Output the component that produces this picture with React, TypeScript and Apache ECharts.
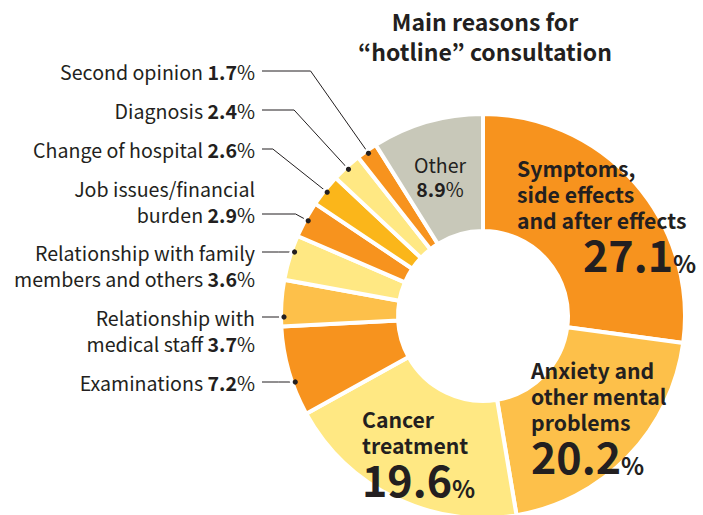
import React, { useEffect, useRef } from 'react';
import * as echarts from 'echarts';

const categories = [
  'Symptoms, side effects and after effects',
  'Anxiety and other mental problems',
  'Cancer treatment',
  'Examinations',
  'Relationship with medical staff',
  'Relationship with family members and others',
  'Job issues/financial burden',
  'Change of hospital',
  'Diagnosis',
  'Second opinion',
  'Other',
];
const values = [27.1, 20.2, 19.6, 7.2, 3.7, 3.6, 2.9, 2.6, 2.4, 1.7, 8.9];
const labelLines = [
  ['Symptoms,', 'side effects', 'and after effects'],
  ['Anxiety and', 'other mental', 'problems'],
  ['Cancer', 'treatment'],
  ['Examinations'],
  ['Relationship with', 'medical staff'],
  ['Relationship with family', 'members and others'],
  ['Job issues/financial', 'burden'],
  ['Change of hospital'],
  ['Diagnosis'],
  ['Second opinion'],
  ['Other'],
];
const titleText = 'Main reasons for\n\u201chotline\u201d consultation';

// styles / layout (not data)
const ORANGE = '#F7931E';
const LIGHT_ORANGE = '#FDC04A';
const PALE = '#FFE883';
const GOLD = '#FBB61A';
const GREY = '#C8C8B9';
const colors = [ORANGE, LIGHT_ORANGE, PALE, ORANGE, LIGHT_ORANGE, PALE, ORANGE, GOLD, PALE, ORANGE, GREY];
const TEXT = '#231F20';
const FONT = '"Noto Sans CJK JP", "Noto Sans", sans-serif';
const CX = 483, CY = 316, R_OUT = 202, R_IN = 85, DOT_R = 199;
const OUT_LH = 26;
const OUT_FS = 19.6;
const BIG_FS = 43;
const OUT_RIGHT = 255, LINE_START = 262;
// index -> [attach y, attach line, leader mode]
const outerLayout: Record<number, [number, number, string]> = {
  3: [382, 0, 'h'],
  4: [317, 0, 'h'],
  5: [252, 0, 'h'],
  6: [214, 1, 'r'],
  7: [149, 0, 'r'],
  8: [110, 0, 'r'],
  9: [71, 0, 'r'],
};
// index -> [x, y(top), align]
const innerLayout: Record<number, [number, number, string]> = {
  0: [517, 154, 'left'],
  1: [531, 356, 'left'],
  2: [362, 405, 'left'],
  10: [440, 152, 'center'],
};

function angles() {
  const total = values.reduce((a, b) => a + b, 0);
  let cum = 0;
  return values.map((v) => {
    const s = (cum / total) * 360;
    cum += v;
    const e = (cum / total) * 360;
    return { s, e, m: (s + e) / 2 };
  });
}

function polar(deg: number, r: number) {
  const t = (deg * Math.PI) / 180;
  return [CX + r * Math.sin(t), CY - r * Math.cos(t)];
}

function leader(i: number) {
  const [y, , mode] = outerLayout[i];
  const a = angles()[i];
  if (mode === 'h') {
    const dx = Math.sqrt(DOT_R * DOT_R - (y - CY) * (y - CY));
    const dot = [CX - dx, y];
    return { dot, points: [[LINE_START, y], [(LINE_START + dot[0]) / 2, y], dot] };
  }
  const dot = polar(a.m, DOT_R);
  const t = (a.m * Math.PI) / 180;
  const s = Math.sin(t), c = Math.cos(t);
  const k = (dot[1] - y) / c;
  const ex = dot[0] + k * s;
  return { dot, points: [[LINE_START, y], [ex, y], dot] };
}

function fmt(v: number) {
  return v.toFixed(1);
}

function labelText(i: number) {
  const lines = labelLines[i];
  const v = fmt(values[i]);
  if (i <= 2) {
    const pad = i === 0 ? '{big0|' : '{big|';
    return lines.map((l) => `{t|${l}}`).join('\n') + `\n${pad}${v}}{bp|%}`;
  }
  if (i === 10) {
    return `{o|${lines[0]}}\n{ob|${v}}{o|%}`;
  }
  const body = lines.slice(0, -1).map((l) => `{r|${l}}`);
  body.push(`{r|${lines[lines.length - 1]} }{n|${v}}{r|%}`);
  return body.join('\n');
}

export default function App() {
  const ref = useRef<HTMLDivElement>(null);
  useEffect(() => {
    if (!ref.current) return;
    const chart = echarts.init(ref.current, undefined, { renderer: 'svg' });
    const dots = Object.keys(outerLayout).map((k) => {
      const { dot } = leader(Number(k));
      return {
        type: 'circle',
        shape: { cx: dot[0], cy: dot[1], r: 2.6 },
        style: { fill: TEXT },
        z: 100,
      };
    });
    const data = values.map((v, i) => {
      const outer = !!outerLayout[i];
      return {
        name: categories[i],
        value: v,
        itemStyle: { color: colors[i] },
        label: { position: outer ? 'outside' : 'inside' },
        labelLine: { show: outer },
      };
    });
    chart.setOption({
      animation: false,
      graphic: [
        {
          type: 'text',
          x: 485,
          y: 6,
          style: {
            text: titleText,
            textAlign: 'center',
            fontFamily: FONT,
            fontWeight: 'bold',
            fontSize: 23,
            lineHeight: 30,
            fill: TEXT,
          },
        },
        ...dots,
      ],
      series: [
        {
          type: 'pie',
          center: [CX, CY],
          radius: [R_IN, R_OUT],
          startAngle: 90,
          clockwise: true,
          avoidLabelOverlap: false,
          itemStyle: { borderColor: '#ffffff', borderWidth: 4 },
          emphasis: { disabled: true },
          label: {
            show: true,
            formatter: (p: any) => labelText(p.dataIndex),
            color: TEXT,
            fontFamily: FONT,
            fontSize: OUT_FS,
            lineHeight: OUT_LH,
            rich: {
              r: { fontSize: OUT_FS, lineHeight: OUT_LH, fontFamily: FONT, color: TEXT },
              n: { fontSize: OUT_FS, lineHeight: OUT_LH, fontWeight: 'bold', fontFamily: FONT, color: TEXT },
              t: { fontSize: 21.2, lineHeight: 26, fontWeight: 'bold', fontFamily: FONT, color: TEXT },
              big0: { fontSize: BIG_FS, lineHeight: 42, fontWeight: 'bold', fontFamily: FONT, color: TEXT, padding: [0, 0, 0, 66], verticalAlign: 'bottom' },
              big: { fontSize: BIG_FS, lineHeight: 42, fontWeight: 'bold', fontFamily: FONT, color: TEXT, verticalAlign: 'bottom' },
              bp: { fontSize: 24, lineHeight: 28, fontWeight: 'bold', fontFamily: FONT, color: TEXT, verticalAlign: 'bottom' },
              o: { fontSize: 19.5, lineHeight: 24, fontFamily: FONT, color: TEXT },
              ob: { fontSize: 19.5, lineHeight: 24, fontWeight: 'bold', fontFamily: FONT, color: TEXT },
            },
          },
          labelLine: { show: true, lineStyle: { color: TEXT, width: 1 } },
          labelLayout: (p: any) => {
            const i = p.dataIndex;
            if (outerLayout[i]) {
              const [y, li] = outerLayout[i];
              const n = labelLines[i].length;
              const center = y + ((n - 1) / 2) * OUT_LH - li * OUT_LH;
              return {
                x: OUT_RIGHT,
                y: center,
                align: 'right',
                verticalAlign: 'middle',
                labelLinePoints: leader(i).points,
              };
            }
            const [x, y, align] = innerLayout[i];
            return { x, y, align, verticalAlign: 'top' };
          },
          data,
        },
      ],
    });
    return () => chart.dispose();
  }, []);
  return (
    <div
      ref={ref}
      style={{ position: 'fixed', left: 0, top: 0, width: 703, height: 515, background: '#fff' }}
    />
  );
}
